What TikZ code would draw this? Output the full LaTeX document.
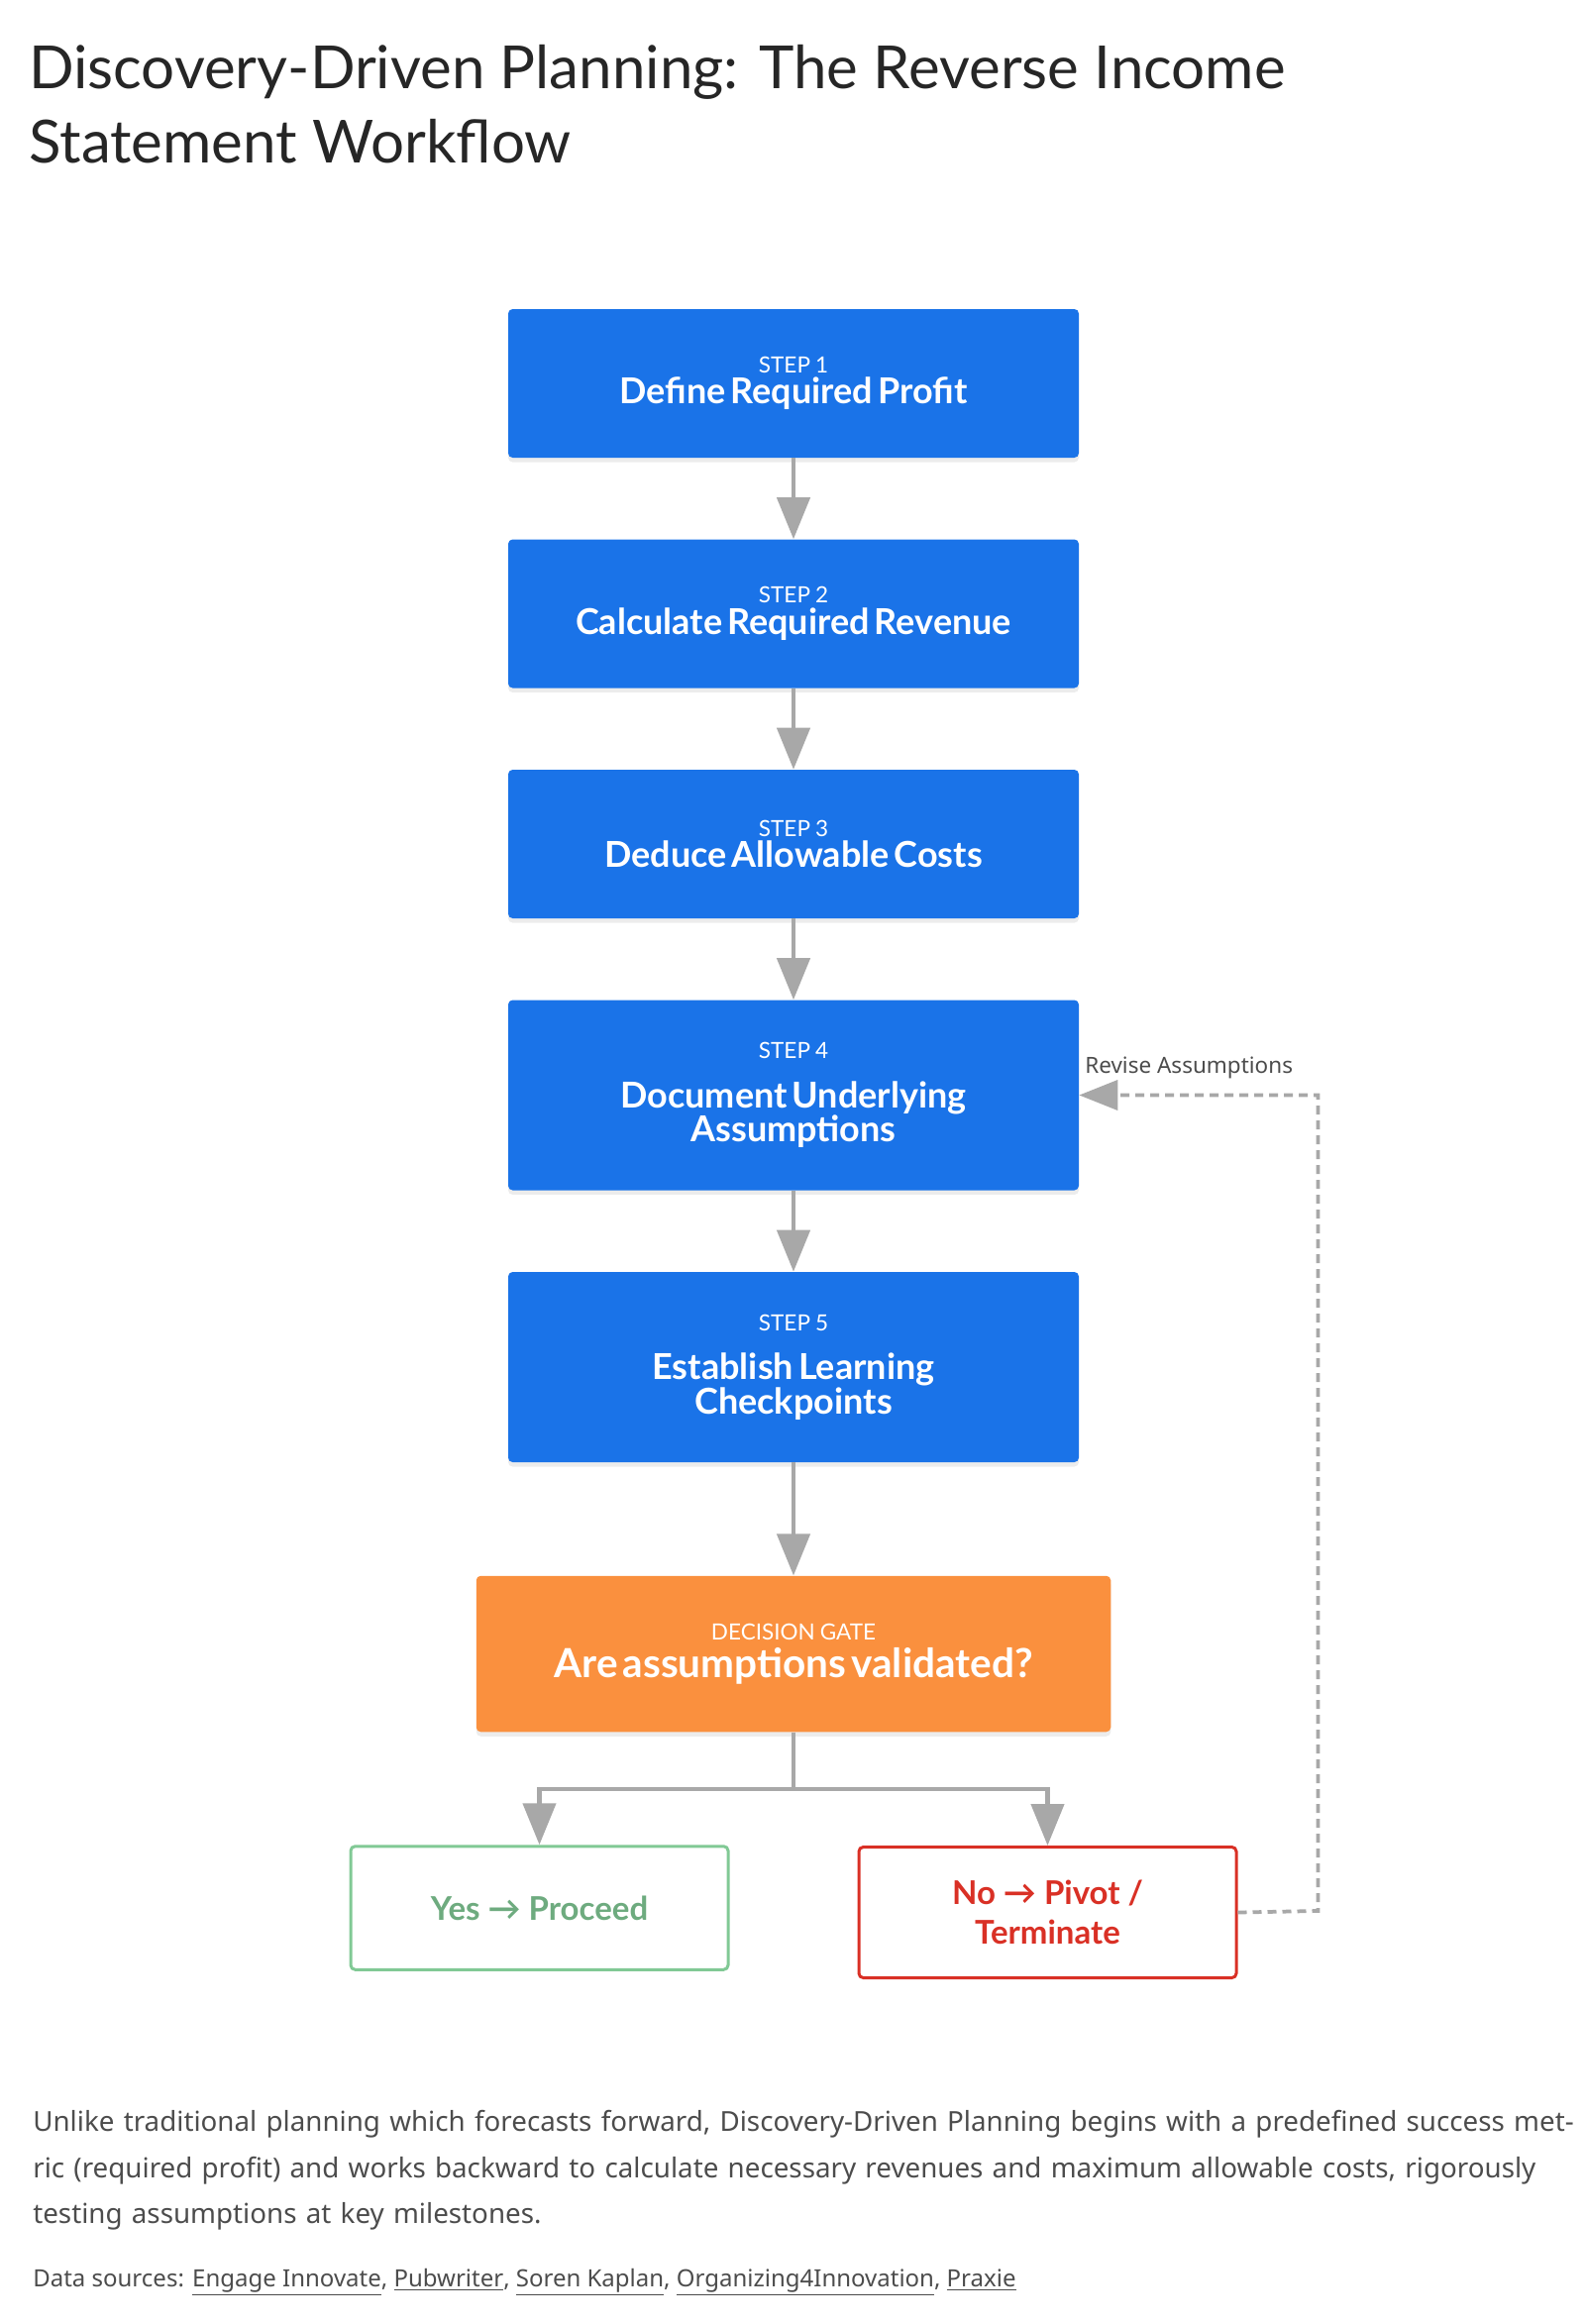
\documentclass[tikz,border=0pt]{standalone}
\usepackage{fontspec}
\setmainfont{Noto Sans}
\newfontfamily\hd{Lato}
\usetikzlibrary{arrows.meta,shadows}
\definecolor{gblue}{HTML}{1A73E8}
\definecolor{gorange}{HTML}{FA903E}
\definecolor{ggreen}{HTML}{81C995}
\definecolor{gred}{HTML}{D93025}
\definecolor{garrow}{HTML}{A8A8A8}
\newcommand{\myLbl}{\hd\fontsize{15}{18}\selectfont}
\newcommand{\myTtl}{\hd\bfseries\fontsize{24}{31}\selectfont}
\begin{document}
\begin{tikzpicture}[x=1pt,y=-1pt,
 box/.style={draw=none,fill=gblue,rounded corners=3pt,minimum width=384pt,text width=370pt,align=center,text=white,drop shadow={opacity=0.15,shadow xshift=0pt,shadow yshift=-3pt}},
 arr/.style={draw=garrow,line width=3pt,-{Triangle[width=22pt,length=28pt]}}]
\useasboundingbox (0,0) rectangle (1067,1564);
\node[anchor=west,font=\hd\fontsize{40}{50}\selectfont,align=left,text=black!85] (title) at (16,70) {Discovery-Driven Planning: The Reverse Income\\Statement Workflow};
\node[box,minimum height=100pt] (s1) at (534,258) {{\myLbl STEP 1}\\[2pt]{\myTtl Define Required Profit}};
\node[box,minimum height=100pt] (s2) at (534,413) {{\myLbl STEP 2}\\[2pt]{\myTtl Calculate Required Revenue}};
\node[box,minimum height=100pt] (s3) at (534,568) {{\myLbl STEP 3}\\[2pt]{\myTtl Deduce Allowable Costs}};
\node[box,minimum height=128pt] (s4) at (534,737) {{\myLbl STEP 4}\\[2pt]{\myTtl Document Underlying\\Assumptions}};
\node[box,minimum height=128pt] (s5) at (534,920) {{\myLbl STEP 5}\\[2pt]{\myTtl Establish Learning\\Checkpoints}};
\node[box,fill=gorange,minimum width=427pt,text width=410pt,minimum height=105pt] (d) at (534,1113) {{\myLbl DECISION GATE}\\[4pt]{\hd\bfseries\fontsize{27}{32}\selectfont Are assumptions validated?}};
\node[draw=ggreen,line width=2pt,rounded corners=3pt,minimum width=254pt,minimum height=83pt,text=ggreen!85!black,font=\hd\bfseries\fontsize{22}{27}\selectfont] (yes) at (363,1284) {Yes → Proceed};
\node[draw=gred,line width=2pt,rounded corners=3pt,minimum width=254pt,minimum height=88pt,text=gred,align=center,font=\hd\bfseries\fontsize{22}{27}\selectfont] (no) at (705,1287) {No → Pivot /\\Terminate};
\draw[arr] (s1) -- (s2);
\draw[arr] (s2) -- (s3);
\draw[arr] (s3) -- (s4);
\draw[arr] (s4) -- (s5);
\draw[arr] (s5) -- (d);
\coordinate (j) at (534,1204);
\draw[draw=garrow,line width=3pt] (d.south) -- (j);
\draw[arr] (j) -| (yes.north);
\draw[arr] (j) -| (no.north);
\coordinate (c1) at (887,1286);
\coordinate (c2) at (887,737);
\draw[draw=garrow,line width=2.5pt,dash pattern=on 6pt off 4pt,-{Triangle[width=20pt,length=26pt]}] (no.east) -- (c1) -- (c2) -- (s4.east);
\node[anchor=south west,font=\fontsize{15}{18}\selectfont,text=black!70,inner sep=0] (rev) at (730,726) {Revise Assumptions};
\node[anchor=north west,text width=1040pt,align=left,font=\fontsize{18.5}{31}\selectfont,text=black!70,inner sep=0] (body) at (22,1420) {Unlike traditional planning which forecasts forward, Discovery-Driven Planning begins with a predefined success metric (required profit) and works backward to calculate necessary revenues and maximum allowable costs, rigorously testing assumptions at key milestones.};
\node[anchor=west,font=\fontsize{16}{20}\selectfont,text=black!70,inner sep=0] (src) at (22,1536) {Data sources: \underline{Engage Innovate}, \underline{Pubwriter}, \underline{Soren Kaplan}, \underline{Organizing4Innovation}, \underline{Praxie}};
\end{tikzpicture}
\end{document}
